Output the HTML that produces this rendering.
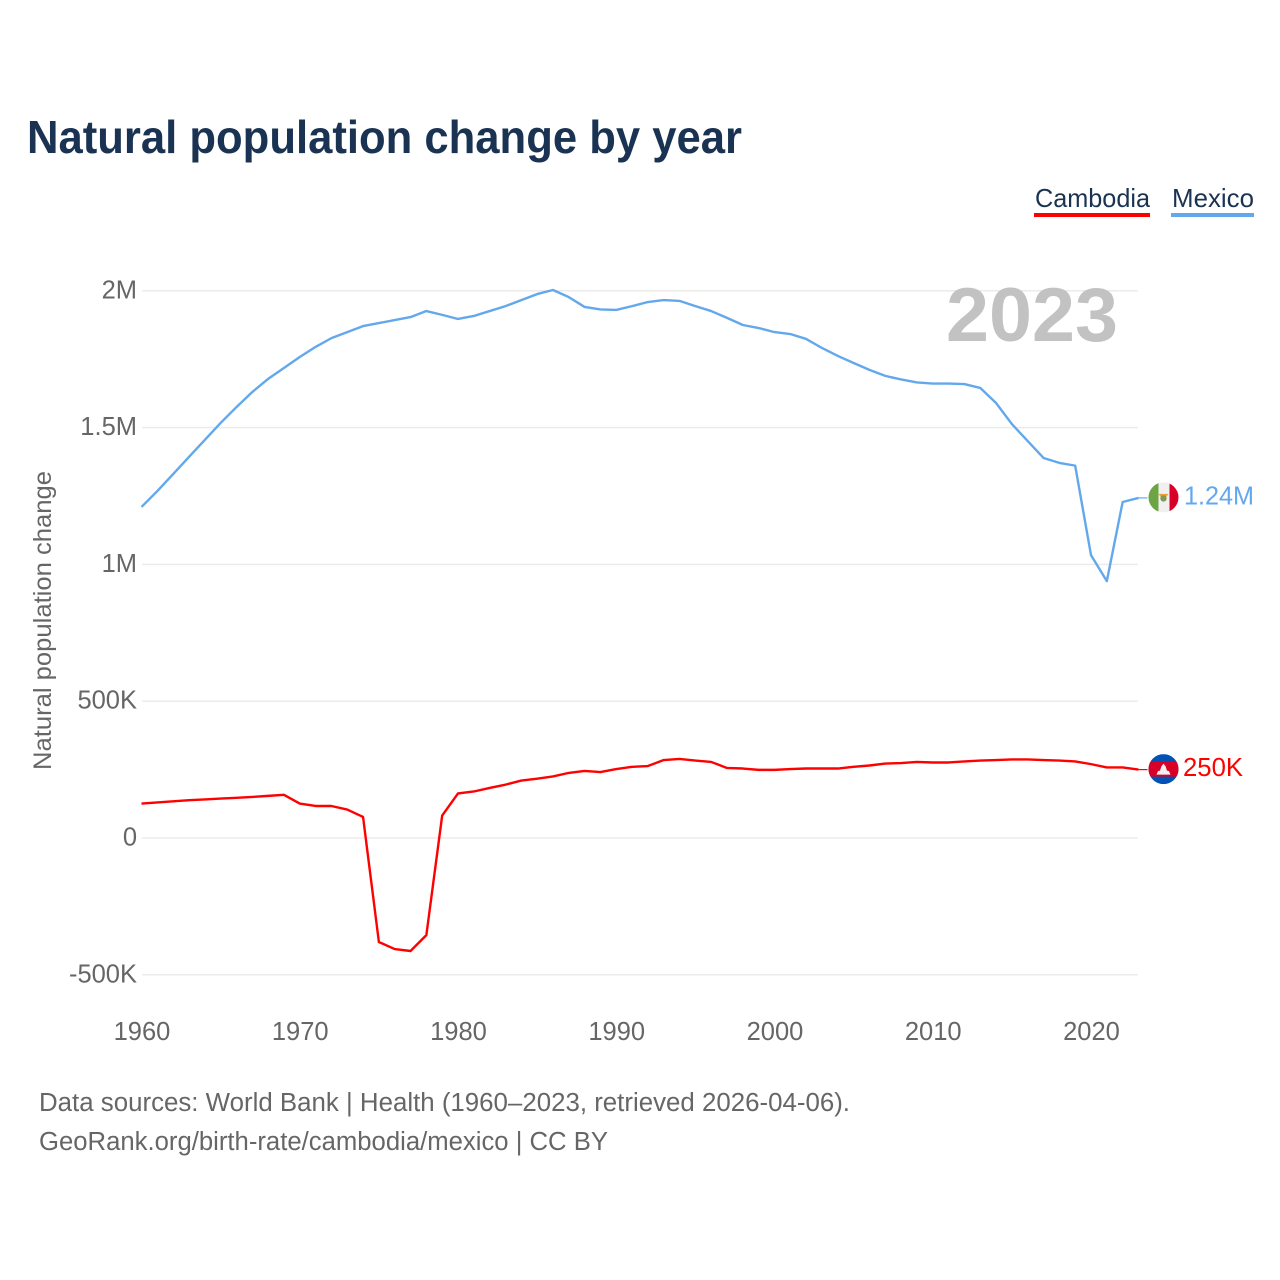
<!DOCTYPE html>
<html lang="en">
<head>
<meta charset="utf-8">
<title>Natural population change by year</title>
<style>
html,body{margin:0;padding:0;background:#fff;}
svg{display:block;font-family:"Liberation Sans",sans-serif;}
</style>
</head>
<body>
<svg id="chart" xmlns="http://www.w3.org/2000/svg" width="1280" height="1280" viewBox="0 0 1280 1280">
  <rect width="1280" height="1280" fill="#ffffff"/>
  <text x="27" y="153" font-size="46" font-weight="700" fill="#1a3353" textLength="715" lengthAdjust="spacingAndGlyphs">Natural population change by year</text>
  <g>
    <g>
      <text x="1035" y="207" font-size="26" fill="#1a3353" textLength="115" lengthAdjust="spacingAndGlyphs">Cambodia</text>
      <rect x="1034" y="213" width="116" height="4" fill="#ff0000"/>
    </g>
    <g>
      <text x="1172" y="207" font-size="26" fill="#1a3353" textLength="82" lengthAdjust="spacingAndGlyphs">Mexico</text>
      <rect x="1171" y="213" width="83" height="4" fill="#63a8ec"/>
    </g>
  </g>
  <g id="grid"></g>
  <g id="yticks"></g>
  <g id="xticks"></g>
  <text transform="translate(51,770) rotate(-90)" font-size="25" fill="#666666" textLength="299" lengthAdjust="spacingAndGlyphs">Natural population change</text>
  <text x="946" y="341" font-size="76" font-weight="700" fill="#c2c2c2" textLength="172" lengthAdjust="spacingAndGlyphs">2023</text>
  <g id="series"></g>
  <g id="flag-mexico">
    <clipPath id="clip-mx"><circle cx="0" cy="0" r="15"/></clipPath>
    <g clip-path="url(#clip-mx)">
      <rect x="-15" y="-15" width="30" height="30" fill="#f0f0f0"/>
      <rect x="-15" y="-15" width="10" height="30" fill="#6da544"/>
      <rect x="6" y="-15" width="9" height="30" fill="#d80027"/>
      <path d="M-5,-3.5 L5,-3.5 L2.5,0 L-2.5,0 Z" fill="#f0a030"/>
      <circle cx="0" cy="1" r="3.2" fill="#7f9a50"/>
    </g>
  </g>
  <g id="flag-cambodia">
    <clipPath id="clip-kh"><circle cx="0" cy="0" r="15"/></clipPath>
    <g clip-path="url(#clip-kh)">
      <rect x="-15" y="-15" width="30" height="30" fill="#0052b4"/>
      <rect x="-15" y="-7.5" width="30" height="15" fill="#d80027"/>
      <path d="M-7,5.5 L-5.5,2 L-3.5,1.5 L-2,-3 L0,-5.5 L2,-3 L3.5,1.5 L5.5,2 L7,5.5 Z" fill="#f0f0f0"/>
    </g>
  </g>
  <text id="label-mexico" x="1184" font-size="25.5" fill="#63a8ec" textLength="70" lengthAdjust="spacingAndGlyphs"></text>
  <text id="label-cambodia" x="1183" font-size="25.5" fill="#ff0000" textLength="60" lengthAdjust="spacingAndGlyphs"></text>
  <g font-size="25.5" fill="#666666">
    <text x="39" y="1111" textLength="811" lengthAdjust="spacingAndGlyphs">Data sources: World Bank | Health (1960–2023, retrieved 2026-04-06).</text>
    <text x="39" y="1150" textLength="569" lengthAdjust="spacingAndGlyphs">GeoRank.org/birth-rate/cambodia/mexico | CC BY</text>
  </g>
</svg>
<script>
const startYear = 1960;
const mexicoValues = [1210,1268,1330,1393,1455,1517,1575,1630,1678,1718,1758,1795,1827,1849,1871,1882,1893,1904,1926,1912,1897,1908,1926,1944,1966,1988,2003,1977,1941,1932,1930,1944,1959,1966,1963,1944,1926,1901,1875,1864,1849,1842,1824,1791,1762,1736,1711,1689,1676,1665,1661,1661,1659,1645,1590,1513,1451,1389,1371,1361,1034,939,1228,1243];
const cambodiaValues = [126,130,134,138,141,144,147,150,154,158,126,117,117,104,77,-380,-406,-413,-355,82,163,170,183,195,210,217,225,238,245,241,252,260,263,285,289,283,278,256,254,249,249,252,254,254,254,260,265,272,274,278,276,276,280,283,285,287,287,285,283,280,270,258,258,250];
const yTickValues = [2000,1500,1000,500,0,-500];
const yTickLabels = ["2M","1.5M","1M","500K","0","-500K"];
const xTickValues = [1960,1970,1980,1990,2000,2010,2020];
const mexicoEndLabel = "1.24M";
const cambodiaEndLabel = "250K";

const NS = "http://www.w3.org/2000/svg";
const xScale = function (year) { return 141.5 + (year - 1960) * 15.825; };
const yScale = function (value) { return 838 - value * 0.2736; };

function make(tag, attrs, parent) {
  const el = document.createElementNS(NS, tag);
  Object.keys(attrs).forEach(function (k) { el.setAttribute(k, attrs[k]); });
  parent.appendChild(el);
  return el;
}

const grid = document.getElementById("grid");
const yticks = document.getElementById("yticks");
yTickValues.forEach(function (v, i) {
  const line = make("line", { x1: 142, x2: 1138, y1: yScale(v), y2: yScale(v), stroke: "#ebebeb", "stroke-width": 1.5 }, grid);
  
  
  const t = make("text", { x: 137, y: yScale(v) + 7.5, "text-anchor": "end", "font-size": 25.5, fill: "#666666" }, yticks);
  
  
  t.textContent = yTickLabels[i];
});

const xticks = document.getElementById("xticks");
xTickValues.forEach(function (year) {
  const t = make("text", { x: xScale(year) + 0.5, y: 1040, "text-anchor": "middle", "font-size": 25.5, fill: "#666666" }, xticks);
  
  
  t.textContent = year;
});

function linePath(values) {
  return values.map(function (v, i) {
    return (i ? "L" : "M") + xScale(startYear + i).toFixed(2) + "," + yScale(v).toFixed(2);
  }).join(" ");
}

const seriesGroup = document.getElementById("series");
const mexicoLine = make("path", { d: linePath(mexicoValues), fill: "none", stroke: "#63a8ec", "stroke-width": 2.4, "stroke-linejoin": "round" }, seriesGroup);


const cambodiaLine = make("path", { d: linePath(cambodiaValues), fill: "none", stroke: "#ff0000", "stroke-width": 2.4, "stroke-linejoin": "round" }, seriesGroup);



function placeEnd(values, color, flagId, labelId, text, connectorName) {
  const lastIndex = values.length - 1;
  const y = yScale(values[lastIndex]);
  const x = xScale(startYear + lastIndex);
  const c = make("line", { x1: x, x2: x + 9, y1: y, y2: y, stroke: color, "stroke-width": 1.2 }, seriesGroup);
  
  
  document.getElementById(flagId).setAttribute("transform", "translate(1163.5," + (y - 0.5).toFixed(2) + ")");
  const label = document.getElementById(labelId);
  label.setAttribute("y", (y + 6.5).toFixed(2));
  label.textContent = text;
}
placeEnd(mexicoValues, "#63a8ec", "flag-mexico", "label-mexico", mexicoEndLabel, "end-connector-mexico");
placeEnd(cambodiaValues, "#ff0000", "flag-cambodia", "label-cambodia", cambodiaEndLabel, "end-connector-cambodia");
</script>
</body>
</html>
